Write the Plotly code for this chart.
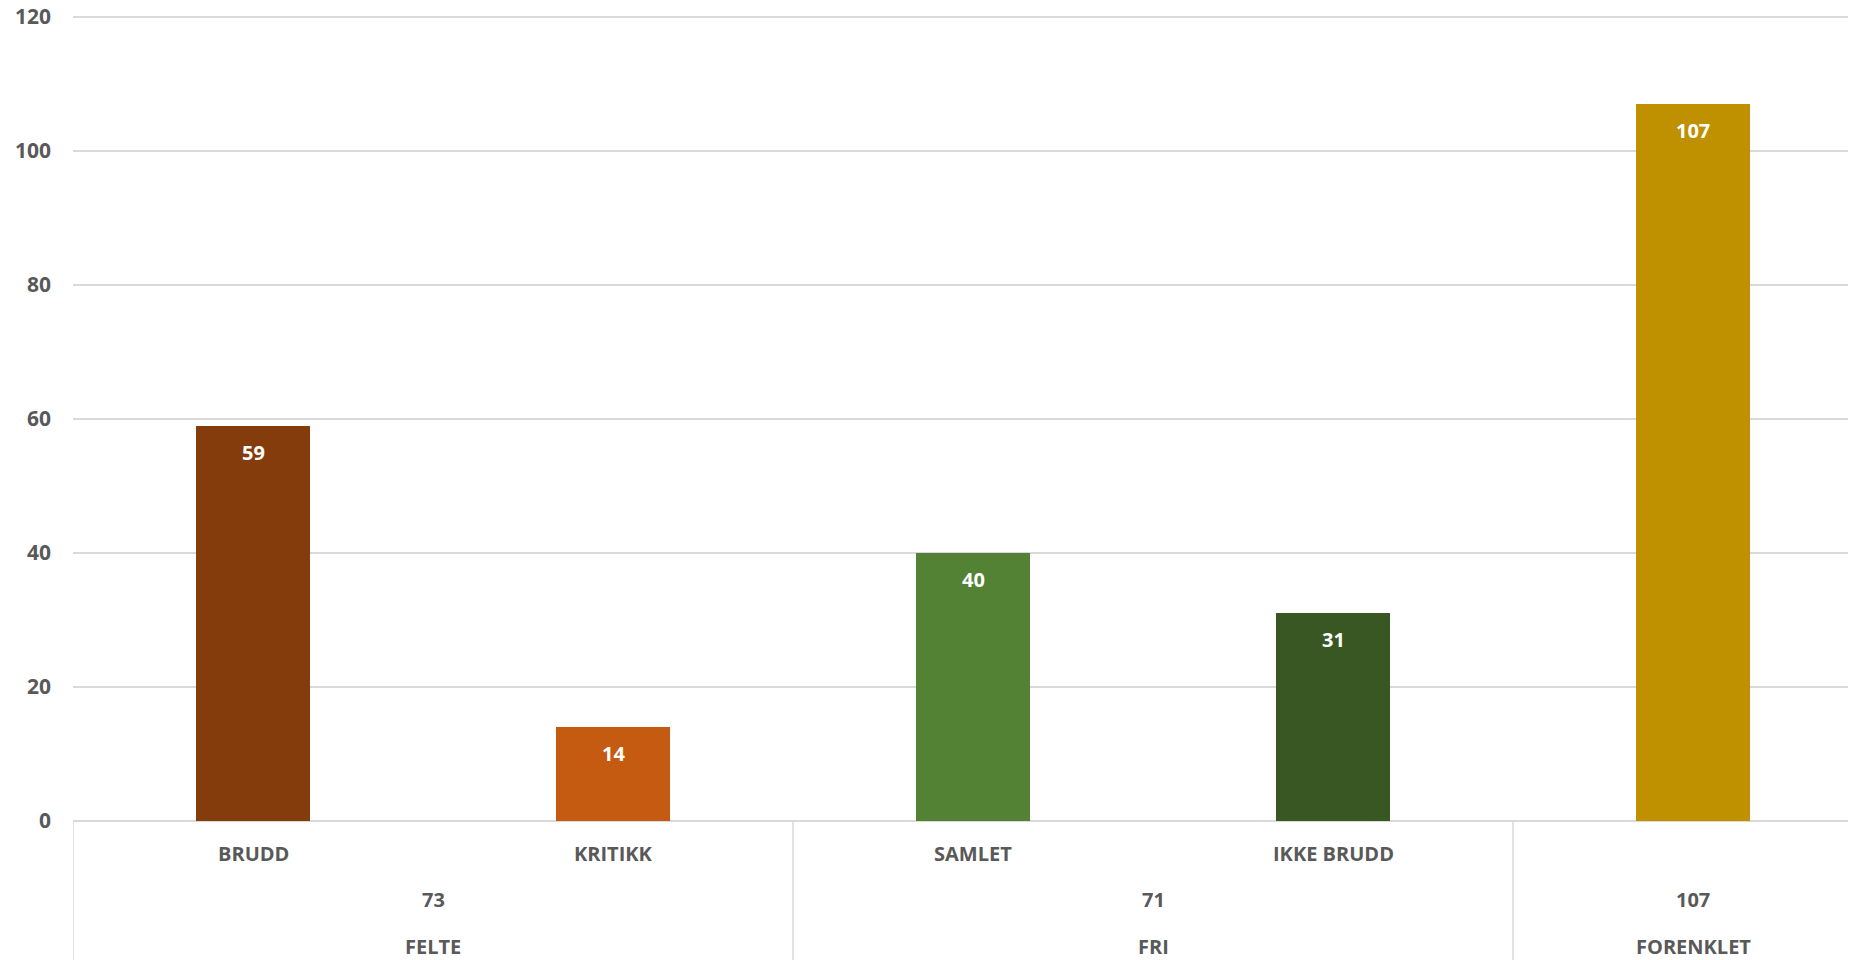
import plotly.graph_objects as go

categories = ["BRUDD", "KRITIKK", "SAMLET", "IKKE BRUDD", "FORENKLET"]
sub_labels = ["BRUDD", "KRITIKK", "SAMLET", "IKKE BRUDD", ""]
values = [59, 14, 40, 31, 107]
colors = ["#843C0C", "#C55A11", "#548235", "#385723", "#BF9000"]
group_names = ["FELTE", "FRI", "FORENKLET"]
group_totals = [73, 71, 107]
group_members = [[0, 1], [2, 3], [4]]
y_ticks = [0, 20, 40, 60, 80, 100, 120]
y_max = 120.3  # a hair above 120 so the top gridline is drawn

# page has an 8px body margin; the figure is sized to fill the rest of the window
W, H = 1848, 952
ML, MT, MB = 65, 6.6, 138.5
plot_w = W - ML
cat_px = 360.0

FONT = "Open Sans"
GREY = "#595959"
LINE = "#d9d9d9"

fig = go.Figure()
fig.add_trace(go.Bar(
    x=list(range(len(categories))), y=values,
    marker=dict(color=colors, line=dict(width=0)),
    width=0.316, hoverinfo="skip", showlegend=False,
))

ann = []
for i, v in enumerate(values):
    ann.append(dict(x=i, y=v, xref="x", yref="y", text=f"<b>{v}</b>", showarrow=False,
                    yanchor="middle", yshift=-26.5, font=dict(family=FONT, size=20, color="white")))
for i, c in enumerate(sub_labels):
    if c:
        ann.append(dict(x=i, y=0, xref="x", yref="paper", text=f"<b>{c}</b>", showarrow=False,
                        yanchor="middle", yshift=-32.5, font=dict(family=FONT, size=20, color=GREY)))
shapes = []
for name, tot, mem in zip(group_names, group_totals, group_members):
    cx = sum(mem) / len(mem)
    ann.append(dict(x=cx, y=0, xref="x", yref="paper", text=f"<b>{tot}</b>", showarrow=False,
                    yanchor="middle", yshift=-78.5, font=dict(family=FONT, size=20, color=GREY)))
    ann.append(dict(x=cx, y=0, xref="x", yref="paper", text=f"<b>{name}</b>", showarrow=False,
                    yanchor="middle", yshift=-125.5, font=dict(family=FONT, size=20, color=GREY)))
    left = min(mem) - 0.5
    shapes.append(dict(type="line", xref="x", yref="paper", x0=left, x1=left, y0=0, y1=-0.2,
                       line=dict(color=LINE, width=1.5), layer="above"))

fig.update_layout(
    width=W, height=H, autosize=False,
    margin=dict(l=ML, r=0, t=MT, b=MB, pad=0),
    paper_bgcolor="white", plot_bgcolor="white",
    bargap=0,
    annotations=ann, shapes=shapes,
    xaxis=dict(type="linear", range=[-0.5, -0.5 + plot_w / cat_px], showticklabels=False,
               showgrid=False, zeroline=False, showline=False, ticks="", automargin=False),
    yaxis=dict(range=[0, y_max], tickvals=y_ticks, showgrid=True, gridcolor=LINE, gridwidth=1.5,
               zeroline=True, zerolinecolor=LINE, zerolinewidth=1.5, showline=False, ticks="",
               ticklabelstandoff=21, ticklabeloverflow="allow", automargin=False,
               tickfont=dict(family=FONT, size=21, color=GREY, weight="bold")),
)

fig.write_html("out.html")
